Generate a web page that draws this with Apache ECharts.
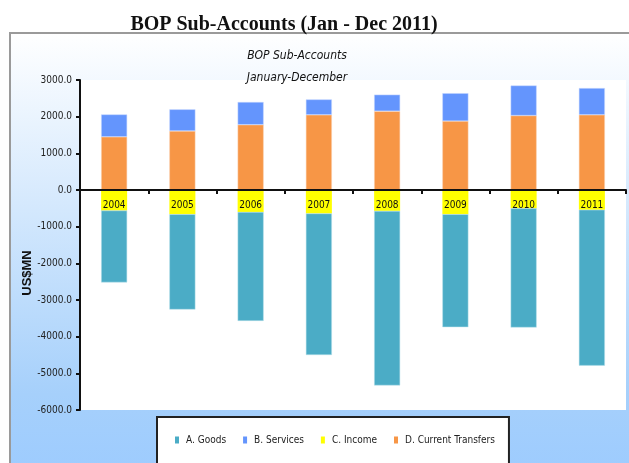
<!DOCTYPE html>
<html>
<head>
<meta charset="utf-8">
<script src="https://cdn.jsdelivr.net/npm/echarts@6/dist/echarts.min.js"></script>
<style>
  html, body { margin: 0; padding: 0; background: #fff; }
  #chart { width: 629px; height: 463px; }
</style>
</head>
<body>
<div id="chart"></div>
<script>
  // values, US$ million
  let years = ['2004', '2005', '2006', '2007', '2008', '2009', '2010', '2011']
  let goods = [-1960, -2600, -2970, -3860, -4760, -3080, -3250, -4250]
  let services = [610, 590, 620, 420, 450, 760, 820, 730]
  let income = [-560, -660, -600, -640, -570, -660, -500, -540]
  let transfers = [1450, 1610, 1780, 2050, 2150, 1880, 2030, 2050]

  let narrow = '"DejaVu Sans Condensed", "Liberation Sans Narrow", sans-serif'

  let chart = echarts.init(document.getElementById('chart'))

  let options = {
    animation: false,
    graphic: [
      {
        type: 'rect',
        shape: { x: 10, y: 33, width: 640, height: 450 },
        style: {
          fill: new echarts.graphic.LinearGradient(0, 0, 0, 1, [
            { offset: 0, color: '#ffffff' },
            { offset: 0.8, color: '#a6d0fb' },
            { offset: 1, color: '#9ccbff' }
          ]),
          stroke: '#9a9a9a',
          lineWidth: 2
        },
        z: -10
      }
    ],
    title: [
      {
        text: 'BOP Sub-Accounts (Jan - Dec 2011)',
        left: 279,
        top: 10,
        textAlign: 'center',
        textStyle: { fontFamily: '"Liberation Serif", "Times New Roman", serif', fontSize: 20, fontWeight: 'bold', color: '#111' }
      },
      {
        text: 'BOP Sub-Accounts',
        left: 292,
        top: 45,
        textAlign: 'center',
        textStyle: { fontFamily: narrow, fontSize: 12, fontStyle: 'italic', fontWeight: 'normal', color: '#111' }
      },
      {
        text: 'January-December',
        left: 292,
        top: 67,
        textAlign: 'center',
        textStyle: { fontFamily: narrow, fontSize: 12, fontStyle: 'italic', fontWeight: 'normal', color: '#111' }
      }
    ],
    color: ['#4bacc6', '#6495fd', '#ffff00', '#f79646'],
    legend: {
      data: ['A. Goods', 'B. Services', 'C. Income', 'D. Current Transfers'],
      left: 157,
      top: 417,
      padding: [18, 14, 30, 18],
      backgroundColor: '#fff',
      borderColor: '#222',
      borderWidth: 2,
      borderRadius: 0,
      itemWidth: 4,
      itemHeight: 7,
      itemGap: 17,
      icon: 'rect',
      itemStyle: { borderWidth: 0 },
      textStyle: { fontFamily: narrow, fontSize: 10, color: '#222', padding: [0, 0, 0, 2] }
    },
    grid: {
      left: 80,
      right: 3,
      top: 80,
      bottom: 53,
      show: true,
      backgroundColor: '#fff',
      borderWidth: 0
    },
    xAxis: {
      type: 'category',
      data: years,
      // drawn as a top axis moved down to the zero line, labels hang below it over the bars
      position: 'top',
      offset: -110,
      z: 5,
      axisLine: { onZero: false, lineStyle: { color: '#111', width: 2 } },
      axisTick: { show: true, inside: true, length: 4, lineStyle: { color: '#111', width: 2 } },
      axisLabel: { inside: true, color: '#111', fontFamily: narrow, fontSize: 10, margin: 10 },
      splitLine: { show: false }
    },
    yAxis: {
      type: 'value',
      min: -6000,
      max: 3000,
      interval: 1000,
      name: 'US$MN',
      nameLocation: 'middle',
      nameGap: 46,
      nameMoveOverlap: false,
      nameTextStyle: {
        fontFamily: '"Liberation Sans", Arial, sans-serif',
        fontSize: 13,
        fontWeight: 'bold',
        color: '#111',
        padding: [0, 56, 0, 0]
      },
      axisLine: { show: true, lineStyle: { color: '#111', width: 2 } },
      axisTick: { show: true, length: 4, lineStyle: { color: '#111', width: 2 } },
      axisLabel: {
        color: '#222',
        fontFamily: narrow,
        fontSize: 10,
        margin: 8,
        formatter: function (v) { return v.toFixed(1) }
      },
      splitLine: { show: false }
    },
    series: [
      {
        name: 'C. Income',
        type: 'bar',
        stack: 'bop',
        barWidth: 26,
        data: income,
        itemStyle: { color: '#ffff00' }
      },
      {
        name: 'D. Current Transfers',
        type: 'bar',
        stack: 'bop',
        barWidth: 26,
        data: transfers,
        itemStyle: { color: '#f79646', borderColor: '#fbd3b4', borderWidth: 0.5 }
      },
      {
        name: 'A. Goods',
        type: 'bar',
        stack: 'bop',
        barWidth: 26,
        data: goods,
        itemStyle: { color: '#4bacc6', borderColor: '#b8e0ea', borderWidth: 0.5 }
      },
      {
        name: 'B. Services',
        type: 'bar',
        stack: 'bop',
        barWidth: 26,
        data: services,
        itemStyle: { color: '#6495fd', borderColor: '#c8d9ff', borderWidth: 0.5 }
      }
    ]
  }

  chart.setOption(options, true)
</script>
</body>
</html>
